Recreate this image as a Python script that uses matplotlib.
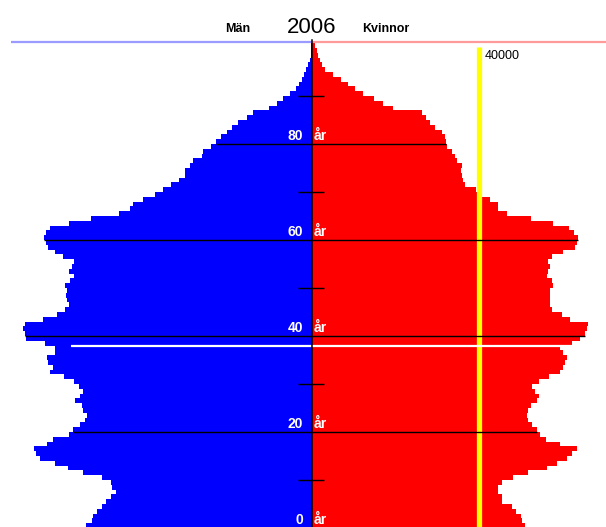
import matplotlib
matplotlib.use("Agg")
import matplotlib.pyplot as plt
import numpy as np

plt.rcParams['font.family'] = ['Liberation Sans', 'DejaVu Sans']

# ---- data (Sweden 2006, persons per one-year age group) ----
ages = list(range(0, 101))
men = [54200, 52800, 52600, 51600, 50400, 49400, 48200, 47000, 48000, 48200,
       50400, 55000, 58600, 61700, 65300, 66200, 66700, 63600, 62200, 58300,
       57400, 55700, 54500, 54000, 55000, 55200, 56900, 55700, 55000, 55900,
       57100, 59500, 62900, 62200, 63400, 63600, 61700, 61700, 64100, 68600,
       68900, 69400, 68900, 64600, 61200, 59300, 58300, 58800, 59000, 58800,
       59300, 58100, 57100, 58300, 57600, 57100, 59800, 61700, 63400, 63800,
       64300, 63800, 62900, 58300, 53000, 46300, 43700, 43000, 40600, 37700,
       35800, 33800, 31900, 30500, 30500, 29300, 28600, 26400, 26200, 24200,
       23000, 21800, 20400, 19200, 17800, 15600, 14200, 10300, 8400, 7000,
       5300, 3800, 3100, 2400, 1900, 1400, 1000, 500, 200, 200,
       200]
women = [51100, 50400, 50200, 49000, 48000, 45600, 45600, 44600, 44600, 45600,
         48200, 51800, 56400, 58800, 61200, 62400, 63600, 59500, 56200, 54700,
         54000, 52800, 51800, 51600, 51800, 52600, 54000, 54500, 53500, 52800,
         54500, 56900, 59500, 60200, 60700, 61200, 60200, 59500, 62400, 64300,
         65500, 66000, 66200, 61900, 60000, 57600, 57100, 57100, 57100, 57100,
         57800, 57600, 56400, 56600, 57100, 56600, 57600, 60200, 63100, 63600,
         63800, 62900, 61700, 57800, 52600, 46800, 44600, 44600, 42700, 39800,
         39400, 36700, 36200, 36000, 35800, 36000, 34800, 34300, 33600, 32400,
         32200, 31900, 31200, 29500, 28300, 27400, 26400, 19400, 17000, 14900,
         12200, 10300, 8600, 7000, 5000, 3100, 2400, 1900, 1400, 1200,
         700]
year = "2006"
label_left = "Män"
label_right = "Kvinnor"
ref_value = 40000
major_ages = [0, 20, 40, 60, 80]
minor_ages = [10, 30, 50, 70, 90]
marker_age = 38

# ---- figure ----
fig = plt.figure(figsize=(6.06, 5.27), dpi=100)
ax = fig.add_axes([0, 0, 1, 1])
ax.set_xlim(-74880, 70560)
ax.set_ylim(0.2083, 110)
ax.axis('off')

ax.barh(ages, [-m for m in men], height=1.0, align='edge', color='#0000ff', linewidth=0)
ax.barh(ages, women, height=1.0, align='edge', color='#ff0000', linewidth=0)

# top line
ax.plot([-72240, 0], [101.25, 101.25], color='#9a9aff', lw=1.6, solid_capstyle='butt')
ax.plot([0, 70560], [101.25, 101.25], color='#ff9a9a', lw=1.6, solid_capstyle='butt')

# reference line
ax.plot([ref_value, ref_value], [0, 100.2], color='#ffff00', lw=3.8, solid_capstyle='butt', zorder=4)
ax.text(ref_value + 1500, 98.3, f"{ref_value}", fontsize=9, ha='left', va='center', color='black')

# major lines across bars
for a in major_ages:
    if a < len(men):
        ax.plot([-men[a], women[a]], [a, a], color='black', lw=1.0, solid_capstyle='butt', zorder=5)
for a in minor_ages:
    ax.plot([-3300, 2900], [a, a], color='black', lw=1.0, solid_capstyle='butt', zorder=5)

# white marker line
ax.plot([-57840, 70560], [marker_age, marker_age], color='white', lw=1.6, solid_capstyle='butt', zorder=6)

# center axis
ax.plot([0, 0], [0, 101.7], color='black', lw=1.1, zorder=7)

# age labels
for a in major_ages:
    ax.text(-2100, a + 0.9, f"{a}", color='white', fontsize=10, fontweight='bold',
            ha='right', va='baseline', zorder=8)
    ax.text(400, a + 0.9, "år", color='white', fontsize=10, fontweight='bold',
            ha='left', va='baseline', zorder=8)

# titles
ax.text(0, 104.2, year, fontsize=16, ha='center', va='center', color='black')
ax.text(-17760, 104.0, label_left, fontsize=9, fontweight='bold', ha='center', va='center')
ax.text(17760, 104.0, label_right, fontsize=9, fontweight='bold', ha='center', va='center')

fig.savefig("out.png", dpi=100)
